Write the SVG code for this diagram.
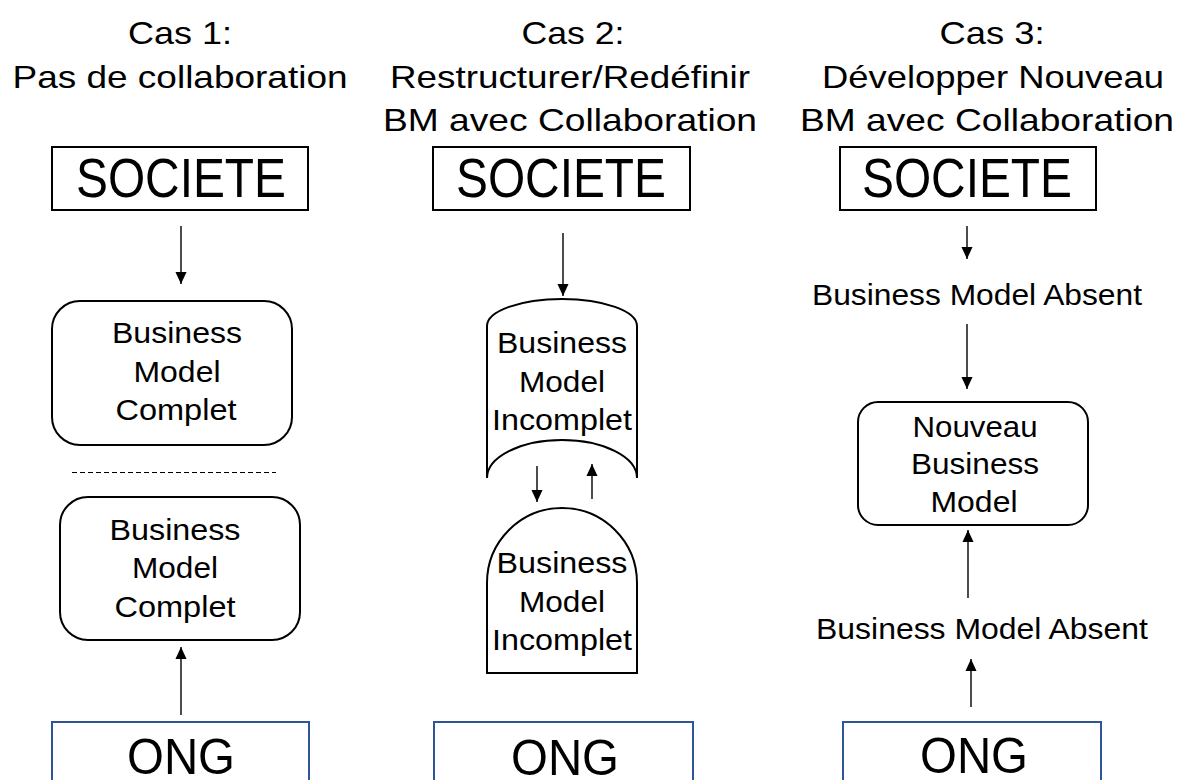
<svg xmlns="http://www.w3.org/2000/svg" width="1180" height="780" viewBox="0 0 1180 780">
  <defs>
    <marker id="ah" markerUnits="userSpaceOnUse" markerWidth="12" markerHeight="12" refX="13" refY="6" orient="auto" viewBox="0 0 13 12">
      <path d="M0,0 L13,6 L0,12 Z" fill="#000"/>
    </marker>
    <style>
      text { font-family: "Liberation Sans", Arial, sans-serif; fill: #000; text-anchor: middle; }
      .title { font-size: 32px; }
      .big { font-size: 56px; }
      .ongt { font-size: 50px; }
      .lbl { font-size: 30px; }
      .box { fill: #fff; stroke: #000; stroke-width: 2; }
      .ong { fill: #fff; stroke: #2F5597; stroke-width: 2; }
      .conn { stroke: #000; stroke-width: 1.4; fill: none; marker-end: url(#ah); }
      .dash { stroke: #000; stroke-width: 1; stroke-dasharray: 5 3; fill: none; }
    </style>
  </defs>
  <rect width="1180" height="780" fill="#fff"/>

  <g id="titles">
    <text class="title" x="180" y="44" textLength="104" lengthAdjust="spacingAndGlyphs">Cas 1:</text>
    <text class="title" x="180" y="88" textLength="335" lengthAdjust="spacingAndGlyphs">Pas de collaboration</text>
    <text class="title" x="573" y="44" textLength="103" lengthAdjust="spacingAndGlyphs">Cas 2:</text>
    <text class="title" x="570" y="88" textLength="360" lengthAdjust="spacingAndGlyphs">Restructurer/Redéfinir</text>
    <text class="title" x="570" y="131" textLength="374" lengthAdjust="spacingAndGlyphs">BM avec Collaboration</text>
    <text class="title" x="992" y="44" textLength="105" lengthAdjust="spacingAndGlyphs">Cas 3:</text>
    <text class="title" x="993" y="88" textLength="342" lengthAdjust="spacingAndGlyphs">Développer Nouveau</text>
    <text class="title" x="987" y="131" textLength="374" lengthAdjust="spacingAndGlyphs">BM avec Collaboration</text>
  </g>

  <g id="societe1">
    <rect class="box" x="52" y="147" width="256" height="63"/>
    <text class="big" x="181" y="197" textLength="210" lengthAdjust="spacingAndGlyphs">SOCIETE</text>
  </g>
  <g id="societe2">
    <rect class="box" x="433" y="147" width="257" height="63"/>
    <text class="big" x="561" y="197" textLength="210" lengthAdjust="spacingAndGlyphs">SOCIETE</text>
  </g>
  <g id="societe3">
    <rect class="box" x="840" y="147" width="256" height="63"/>
    <text class="big" x="967" y="197" textLength="210" lengthAdjust="spacingAndGlyphs">SOCIETE</text>
  </g>

  <g id="bm1-societe">
    <rect class="box" x="52" y="301" width="240" height="144" rx="28"/>
    <text class="lbl" x="177" y="343" textLength="130" lengthAdjust="spacingAndGlyphs">Business</text>
    <text class="lbl" x="177" y="382" textLength="87" lengthAdjust="spacingAndGlyphs">Model</text>
    <text class="lbl" x="176" y="420" textLength="121" lengthAdjust="spacingAndGlyphs">Complet</text>
  </g>
  <g id="separator1">
    <line class="dash" x1="72" y1="472.5" x2="276" y2="472.5"/>
  </g>
  <g id="bm1-ong">
    <rect class="box" x="60" y="497" width="240" height="143" rx="28"/>
    <text class="lbl" x="175" y="540" textLength="131" lengthAdjust="spacingAndGlyphs">Business</text>
    <text class="lbl" x="175" y="578" textLength="86" lengthAdjust="spacingAndGlyphs">Model</text>
    <text class="lbl" x="175" y="617" textLength="121" lengthAdjust="spacingAndGlyphs">Complet</text>
  </g>

  <g id="bm2-societe">
    <path class="box" d="M487,478 V326 A75,27 0 0 1 637,326 V478 A75,38 0 0 0 487,478 Z"/>
    <text class="lbl" x="562" y="353" textLength="130" lengthAdjust="spacingAndGlyphs">Business</text>
    <text class="lbl" x="562" y="392" textLength="86" lengthAdjust="spacingAndGlyphs">Model</text>
    <text class="lbl" x="562" y="430" textLength="140" lengthAdjust="spacingAndGlyphs">Incomplet</text>
  </g>
  <g id="bm2-ong">
    <path class="box" d="M487,673 V583 A75,75 0 0 1 637,583 V673 Z"/>
    <text class="lbl" x="562" y="573" textLength="131" lengthAdjust="spacingAndGlyphs">Business</text>
    <text class="lbl" x="562" y="612" textLength="86" lengthAdjust="spacingAndGlyphs">Model</text>
    <text class="lbl" x="562" y="650" textLength="140" lengthAdjust="spacingAndGlyphs">Incomplet</text>
  </g>

  <g id="bm3-absent-societe">
    <text class="lbl" x="977" y="305" textLength="330" lengthAdjust="spacingAndGlyphs">Business Model Absent</text>
  </g>
  <g id="bm3-nouveau">
    <rect class="box" x="858" y="402" width="230" height="123" rx="20"/>
    <text class="lbl" x="975" y="437" textLength="125" lengthAdjust="spacingAndGlyphs">Nouveau</text>
    <text class="lbl" x="975" y="474" textLength="128" lengthAdjust="spacingAndGlyphs">Business</text>
    <text class="lbl" x="974" y="512" textLength="87" lengthAdjust="spacingAndGlyphs">Model</text>
  </g>
  <g id="bm3-absent-ong">
    <text class="lbl" x="982" y="639" textLength="332" lengthAdjust="spacingAndGlyphs">Business Model Absent</text>
  </g>

  <g id="ong1">
    <rect class="ong" x="52" y="722" width="257" height="90"/>
    <text class="ongt" x="181" y="774" textLength="108" lengthAdjust="spacingAndGlyphs">ONG</text>
  </g>
  <g id="ong2">
    <rect class="ong" x="434" y="722" width="259" height="90"/>
    <text class="ongt" x="565" y="775" textLength="108" lengthAdjust="spacingAndGlyphs">ONG</text>
  </g>
  <g id="ong3">
    <rect class="ong" x="843" y="722" width="258" height="90"/>
    <text class="ongt" x="974" y="773" textLength="108" lengthAdjust="spacingAndGlyphs">ONG</text>
  </g>

  <g id="connectors">
    <line class="conn" x1="181" y1="226" x2="181" y2="284"/>
    <line class="conn" x1="181" y1="715" x2="181" y2="647"/>
    <line class="conn" x1="563" y1="233" x2="563" y2="296"/>
    <line class="conn" x1="537" y1="466" x2="537" y2="502"/>
    <line class="conn" x1="592" y1="499" x2="592" y2="464"/>
    <line class="conn" x1="967" y1="226" x2="967" y2="259"/>
    <line class="conn" x1="967" y1="324" x2="967" y2="389"/>
    <line class="conn" x1="968" y1="598" x2="968" y2="530"/>
    <line class="conn" x1="971" y1="707" x2="971" y2="659"/>
  </g>
</svg>
